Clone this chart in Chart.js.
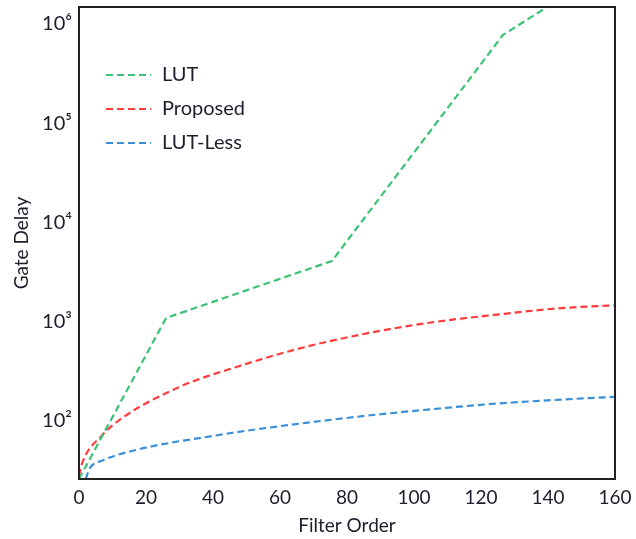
<!DOCTYPE html>
<html lang="en">
<head>
    <meta charset="UTF-8">
    <title>Gate Delay vs Filter Order</title>
    <script src="https://cdn.jsdelivr.net/npm/chart.js"></script>
    <style>
        body {
            margin: 0;
            padding: 0;
            background: #ffffff;
        }
        .wrap {
            width: 636px;
            height: 539px;
        }
    </style>
</head>
<body>
    <div class="wrap">
        <canvas id="delayChart" width="636" height="539"></canvas>
    </div>

    <script>
        // values
        const lutOrder = [0, 26, 75.5, 126.5, 140];
        const lutDelay = [26, 1090, 4090, 770000, 1500000];

        const proposedOrder = [0, 1, 7, 12, 30, 47, 67, 84, 104, 124, 144, 160];
        const proposedDelay = [28, 38, 72, 102, 220, 350, 550, 740, 970, 1170, 1370, 1460];

        const lutLessOrder = [2, 3.3, 7, 17, 27, 37, 47, 56, 67, 86, 104, 124, 144, 160];
        const lutLessDelay = [26, 33.6, 40, 51, 60, 68, 77, 85, 95, 113, 130, 149, 164, 175];

        const yTickValues = [100, 1000, 10000, 100000, 1000000];
        const yTickLabels = ['10²', '10³', '10⁴', '10⁵', '10⁶'];

        const textColor = '#1d1d2b';
        const fontFamily = 'Lato, "Liberation Sans", sans-serif';

        function toPoints(xs, ys) {
            return xs.map((x, i) => ({ x: x, y: ys[i] }));
        }

        // box around the plot and the legend inside it
        const framePlugin = {
            id: 'frame',
            afterDatasetsDraw(chart) {
                const ctx = chart.ctx;
                const a = chart.chartArea;
                ctx.save();
                ctx.strokeStyle = '#222';
                ctx.lineWidth = 2;
                ctx.strokeRect(a.left, a.top, a.right - a.left, a.bottom - a.top);

                ctx.font = '20px ' + fontFamily;
                ctx.textBaseline = 'middle';
                ctx.fillStyle = textColor;
                chart.data.datasets.forEach((ds, i) => {
                    const y = a.top + 68 + i * 34;
                    ctx.beginPath();
                    ctx.setLineDash(ds.borderDash);
                    ctx.strokeStyle = ds.borderColor;
                    ctx.lineWidth = ds.borderWidth;
                    ctx.moveTo(a.left + 27, y);
                    ctx.lineTo(a.left + 72, y);
                    ctx.stroke();
                    ctx.setLineDash([]);
                    ctx.fillText(ds.label, a.left + 83, y);
                });
                ctx.restore();
            }
        };

        const ctx = document.getElementById('delayChart').getContext('2d');
        new Chart(ctx, {
            type: 'line',
            data: {
                datasets: [{
                    label: 'LUT',
                    data: toPoints(lutOrder, lutDelay),
                    borderColor: '#3cc274',
                    borderWidth: 2.2,
                    borderDash: [7, 4],
                    pointRadius: 0,
                    tension: 0
                }, {
                    label: 'Proposed',
                    data: toPoints(proposedOrder, proposedDelay),
                    borderColor: '#ff3b3b',
                    borderWidth: 2.2,
                    borderDash: [7, 4],
                    pointRadius: 0,
                    cubicInterpolationMode: 'monotone'
                }, {
                    label: 'LUT-Less',
                    data: toPoints(lutLessOrder, lutLessDelay),
                    borderColor: '#3a8fd8',
                    borderWidth: 2.2,
                    borderDash: [7, 4],
                    pointRadius: 0,
                    cubicInterpolationMode: 'monotone'
                }]
            },
            options: {
                responsive: false,
                animation: false,
                layout: {
                    padding: { top: 7, right: 21, left: 0, bottom: 0 }
                },
                plugins: {
                    legend: { display: false },
                    tooltip: { enabled: false }
                },
                scales: {
                    x: {
                        type: 'linear',
                        min: 0,
                        max: 160,
                        afterFit(scale) {
                            scale.height = 60;
                            scale.paddingLeft = 0;
                            scale.paddingRight = 0;
                        },
                        grid: { display: false, drawTicks: false },
                        border: { display: false },
                        ticks: {
                            stepSize: 20,
                            padding: 7,
                            maxRotation: 0,
                            color: textColor,
                            font: { family: fontFamily, size: 19 }
                        },
                        title: {
                            display: true,
                            text: 'Filter Order',
                            color: textColor,
                            font: { family: fontFamily, size: 19 },
                            padding: { top: 0, bottom: 2 }
                        }
                    },
                    y: {
                        type: 'logarithmic',
                        min: 26,
                        max: 1480000,
                        afterFit(scale) {
                            scale.width = 79;
                            scale.paddingTop = 0;
                            scale.paddingBottom = 0;
                        },
                        afterBuildTicks(scale) {
                            scale.ticks = yTickValues.map(v => ({ value: v }));
                        },
                        grid: { display: false, drawTicks: false },
                        border: { display: false },
                        ticks: {
                            padding: 7,
                            color: textColor,
                            font: { family: fontFamily, size: 20 },
                            callback: function(value) {
                                const i = yTickValues.indexOf(value);
                                return i >= 0 ? yTickLabels[i] : '';
                            }
                        },
                        title: {
                            display: true,
                            text: 'Gate Delay',
                            color: textColor,
                            font: { family: fontFamily, size: 19 },
                            padding: { top: 10, bottom: 0 }
                        }
                    }
                }
            },
            plugins: [framePlugin]
        });
    </script>
</body>
</html>
